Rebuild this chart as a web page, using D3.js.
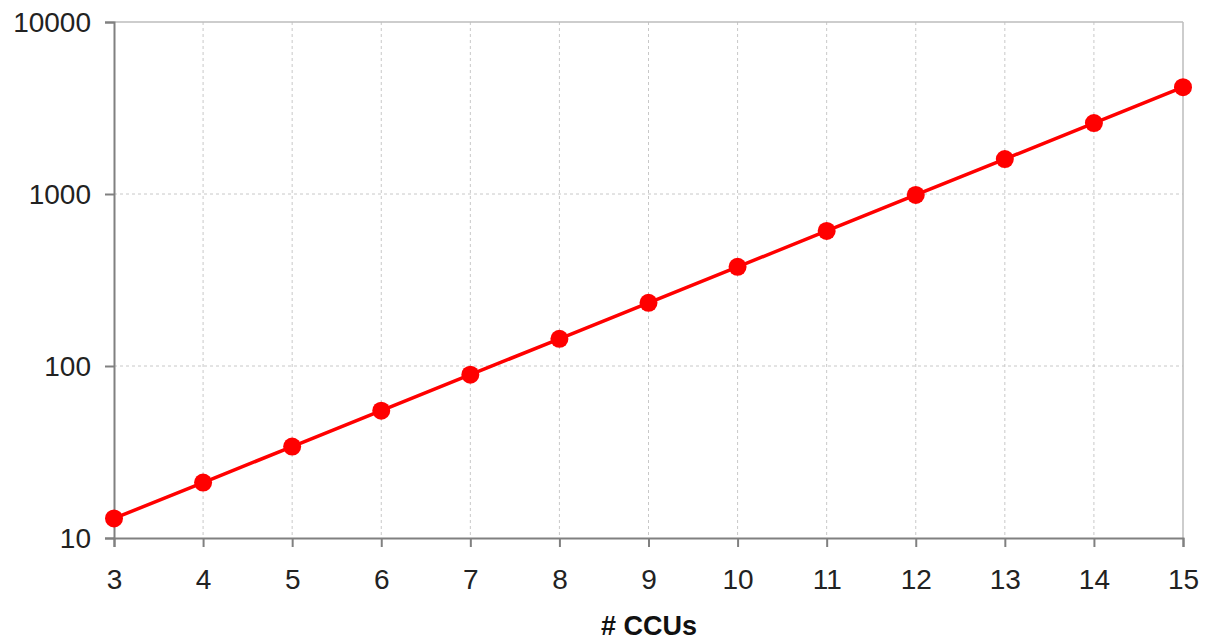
<!DOCTYPE html>
<html><head><meta charset="utf-8">
<script src="https://cdn.jsdelivr.net/npm/d3@7"></script>
<style>body{margin:0;background:#fff}svg{display:block}</style>
</head><body>
<svg id="c" width="1208" height="640"></svg>
<script>
const ccus = [3,4,5,6,7,8,9,10,11,12,13,14,15];
const values = [13,21,34,55,89,144,233,377,610,987,1597,2584,4181];
const yTicks = [10,100,1000,10000];
const xLabel = "# CCUs";

const svg = d3.select("#c");
const m = {l:114, r:1183, t:22, b:538};
const x = d3.scaleLinear().domain([3,15]).range([m.l, m.r]);
const y = d3.scaleLog().domain([10,10000]).range([m.b, m.t]);
const font = "'Liberation Sans', Arial, sans-serif";

// gridlines
svg.append("g").selectAll("line").data(ccus.slice(1,-1)).join("line")
  .attr("x1",d=>x(d)).attr("x2",d=>x(d)).attr("y1",m.t).attr("y2",m.b)
  .attr("stroke","#c8c8c8").attr("stroke-width",1).attr("stroke-dasharray","3,3");
svg.append("g").selectAll("line").data(yTicks.slice(1,-1)).join("line")
  .attr("x1",m.l).attr("x2",m.r).attr("y1",d=>y(d)).attr("y2",d=>y(d))
  .attr("stroke","#c8c8c8").attr("stroke-width",1).attr("stroke-dasharray","3,3");
// top and right border
svg.append("line").attr("x1",m.l).attr("x2",m.r).attr("y1",y(10000)).attr("y2",y(10000)).attr("stroke","#bdbdbd").attr("stroke-width",1.5);
svg.append("line").attr("x1",m.r).attr("x2",m.r).attr("y1",m.t).attr("y2",m.b).attr("stroke","#bdbdbd").attr("stroke-width",1.5);

// axes
const xAxis = svg.append("g").attr("transform",`translate(0,${m.b})`)
  .call(d3.axisBottom(x).tickValues(ccus).tickFormat(d3.format("d")).tickSizeOuter(0).tickSize(9).tickPadding(22));
const yAxis = svg.append("g").attr("transform",`translate(${m.l},0)`)
  .call(d3.axisLeft(y).tickValues(yTicks).tickFormat(d3.format("d")).tickSizeOuter(0).tickSize(9).tickPadding(14));
[xAxis,yAxis].forEach(a=>{
  a.attr("font-size",null).attr("font-family",null);
  a.selectAll("path.domain").attr("stroke","#808080").attr("stroke-width",2);
  a.selectAll(".tick line").attr("stroke","#808080").attr("stroke-width",2);
  a.selectAll("text").style("font-family",font).style("font-size","28px").attr("fill","#222");
});
yAxis.selectAll("text").attr("dy","0.35em");
xAxis.selectAll("text").attr("dy","0.71em");

// line
svg.append("path").datum(ccus.map((c,i)=>[c,values[i]]))
  .attr("d",d3.line().x(d=>x(d[0])).y(d=>y(d[1])))
  .attr("fill","none").attr("stroke","#ff0000").attr("stroke-width",3.5);
svg.append("g").selectAll("circle").data(ccus).join("circle")
  .attr("cx",d=>x(d)).attr("cy",(d,i)=>y(values[i])).attr("r",9).attr("fill","#ff0000");

svg.append("text").attr("x",649).attr("y",635).attr("text-anchor","middle")
  .style("font-family",font).attr("font-weight","bold").style("font-size","27px").attr("fill","#111").text(xLabel);
</script>
</body></html>
